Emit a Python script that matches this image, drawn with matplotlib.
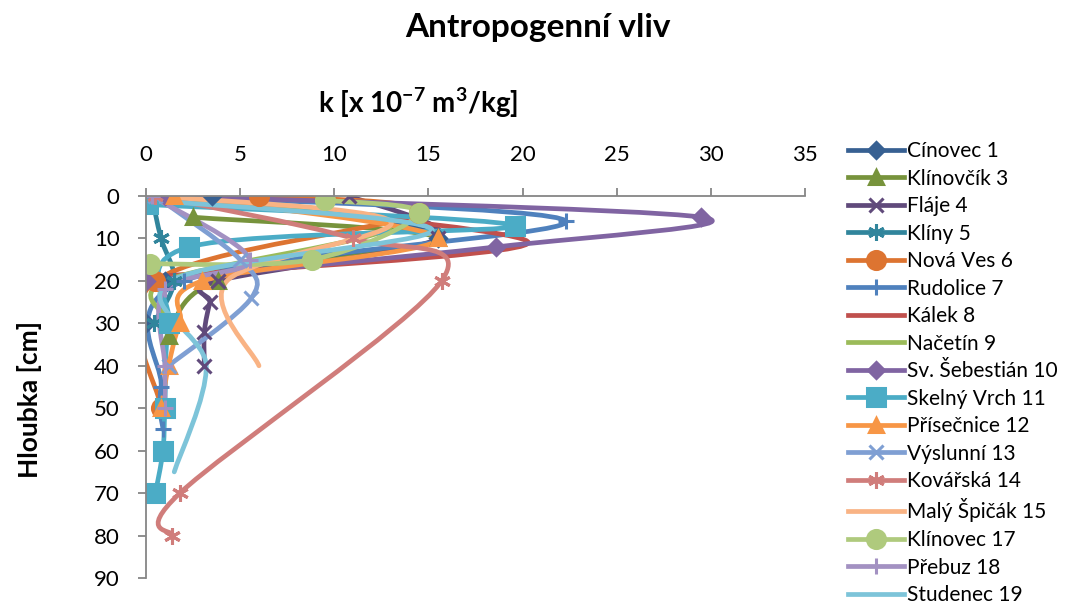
import numpy as np
import matplotlib
matplotlib.use('Agg')
import matplotlib.pyplot as plt
from matplotlib.path import Path
from matplotlib.patches import PathPatch
from matplotlib.lines import Line2D

plt.rcParams['font.family'] = ['Lato', 'DejaVu Sans']
plt.rcParams['mathtext.default'] = 'regular'

# series: name -> (k values, depths)
names = ['Cínovec 1', 'Klínovčík 3', 'Fláje 4', 'Klíny 5', 'Nová Ves 6', 'Rudolice 7',
         'Kálek 8', 'Načetín 9', 'Sv. Šebestián 10', 'Skelný Vrch 11', 'Přísečnice 12',
         'Výslunní 13', 'Kovářská 14', 'Malý Špičák 15', 'Klínovec 17', 'Přebuz 18',
         'Studenec 19']

k_cinovec = [3.5, 15.5, 1.0, 0.0]
d_cinovec = [0, 10, 20, 30]
k_klinovcik = [2.5, 15.5, 3.8, 1.2]
d_klinovcik = [5, 10, 20, 33]
k_flaje = [10.8, 15.5, 3.8, 3.4, 3.1, 3.1]
d_flaje = [0, 10, 20, 25, 32, 40]
k_kliny = [0.3, 0.8, 1.5, 0.4]
d_kliny = [0, 10, 20, 30]
k_novaves = [6.0, 14.5, 0.5, 0.8]
d_novaves = [0, 4, 20, 50]
k_rudolice = [0.5, 22.3, 2.0, 0.8, 0.9]
d_rudolice = [0, 6, 20, 45, 55]
k_kalek = [1.0, 20.3, 0.5]
d_kalek = [0, 11, 19]
k_nacetin = [0.5, 13.0, 1.0, 1.5]
d_nacetin = [0, 7, 20, 30]
k_sebestian = [1.0, 29.5, 18.6, 0.0]
d_sebestian = [0, 5, 12, 20]
k_skelny = [0.1, 19.6, 2.3, 1.2, 1.0, 0.9, 0.5]
d_skelny = [2, 7, 12, 30, 50, 60, 70]
k_prisecnice = [1.5, 15.5, 3.0, 1.8, 1.2, 0.8]
d_prisecnice = [0, 10, 20, 30, 40, 50]
k_vyslunni = [0.5, 5.0, 5.6, 1.2]
d_vyslunni = [0, 15, 24, 40]
k_kovarska = [0.5, 11.0, 15.7, 1.8, 1.4]
d_kovarska = [0, 10, 20, 70, 80]
k_spicak = [0.5, 13.0, 4.3, 6.0]
d_spicak = [0, 6, 20, 40]
k_klinovec = [9.5, 14.5, 8.8, 0.2]
d_klinovec = [1, 4, 15, 16]
k_prebuz = [0.3, 5.5, 1.0, 1.0, 1.0]
d_prebuz = [0, 15, 22, 40, 50]
k_studenec = [0.3, 15.2, 1.3, 3.2, 1.5]
d_studenec = [1, 8, 20, 40, 65]

series_k = [k_cinovec, k_klinovcik, k_flaje, k_kliny, k_novaves, k_rudolice, k_kalek,
            k_nacetin, k_sebestian, k_skelny, k_prisecnice, k_vyslunni, k_kovarska,
            k_spicak, k_klinovec, k_prebuz, k_studenec]
series_d = [d_cinovec, d_klinovcik, d_flaje, d_kliny, d_novaves, d_rudolice, d_kalek,
            d_nacetin, d_sebestian, d_skelny, d_prisecnice, d_vyslunni, d_kovarska,
            d_spicak, d_klinovec, d_prebuz, d_studenec]

colors = ['#376092', '#77933C', '#604A7B', '#31859C', '#DD7431', '#4F81BD', '#C0504D',
          '#9BBB59', '#8064A2', '#4BACC6', '#F79646', '#7F9FD3', '#D07D7B', '#F9B384',
          '#AFCA7D', '#A391C2', '#7DC4D9']
star = (6, 2, 0)
markers = ['D', '^', 'x', star, 'o', '+', None, None, 'D', 's', '^', 'x', star, None,
           'o', '+', None]
msizes = {'D': 8, '^': 10, 'x': 10, 'o': 13, '+': 12, 's': 13, star: 12}


def smooth_path(xs, ys):
    # Excel-like smoothed line as cubic Bezier segments
    p = np.column_stack([xs, ys]).astype(float)
    n = len(p)
    verts = [p[0]]
    codes = [Path.MOVETO]
    for i in range(n - 1):
        p0 = p[i - 1] if i > 0 else p[i]
        p3 = p[i + 2] if i + 2 < n else p[i + 1]
        c1 = p[i] + (p[i + 1] - p0) / 6
        c2 = p[i + 1] - (p3 - p[i]) / 6
        verts += [c1, c2, p[i + 1]]
        codes += [Path.CURVE4] * 3
    return Path(verts, codes)


fig = plt.figure(figsize=(10.79, 6.05), dpi=100)
ax = fig.add_axes([146 / 1079, 1 - 578 / 605, 659 / 1079, 382 / 605])

handles = []
for name, ks, ds, c, m in zip(names, series_k, series_d, colors, markers):
    patch = PathPatch(smooth_path(ks, ds), facecolor='none', edgecolor=c, lw=3.4,
                      capstyle='round', joinstyle='round')
    ax.add_patch(patch)
    if m is not None:
        ax.plot(ks, ds, linestyle='none', marker=m, color=c, markersize=msizes[m],
                markeredgewidth=2.2)
    handles.append(Line2D([], [], color=c, lw=3.4, marker=m,
                          markersize=msizes.get(m, 0), markeredgewidth=2.2, label=name))

ax.set_xlim(0, 35)
ax.set_ylim(90, 0)
ax.set_xticks(range(0, 36, 5))
ax.set_yticks(range(0, 91, 10))
ax.xaxis.tick_top()
for s in ['right', 'bottom']:
    ax.spines[s].set_visible(False)
for s in ['left', 'top']:
    ax.spines[s].set_color('#868686')
    ax.spines[s].set_linewidth(1.3)
ax.tick_params(axis='both', direction='out', length=6, width=1.3, color='#868686',
               labelsize=16)
ax.tick_params(axis='x', pad=16)
ax.tick_params(axis='y', pad=13)

fig.text(538 / 1079, 1 - 28 / 605, 'Antropogenní vliv', ha='center', va='center',
         fontsize=24, fontweight='bold')
fig.text(418 / 1079, 1 - 103 / 605, 'k [x 10$^{-7}$ m$^3$/kg]', ha='center',
         va='center', fontsize=20, fontweight='bold')
fig.text(30 / 1079, 1 - 400 / 605, 'Hloubka [cm]', ha='center', va='center',
         rotation=90, fontsize=19, fontweight='bold')

fig.legend(handles=handles, loc='upper left', bbox_to_anchor=(848 / 1079, 1 - 141 / 605),
           frameon=False, fontsize=15, handlelength=2.7, handletextpad=0.15,
           labelspacing=0.36, borderaxespad=0, borderpad=0)

fig.savefig('out.png', dpi=100)
